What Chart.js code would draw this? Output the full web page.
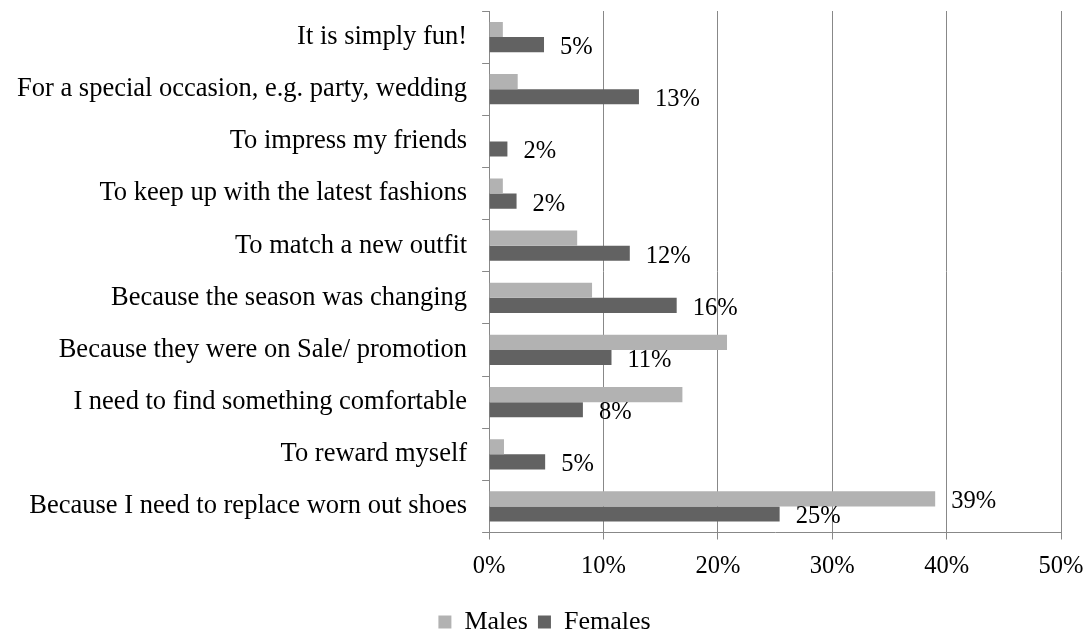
<!DOCTYPE html>
<html>
<head>
<meta charset="utf-8">
<script src="https://cdn.jsdelivr.net/npm/chart.js@4"></script>
<style>
  html, body { margin: 0; padding: 0; background: #fff; }
  #wrap { width: 1091px; height: 632px; }
</style>
</head>
<body>
<div id="wrap"><canvas id="chart" width="1091" height="632"></canvas></div>
<script>
const categories = [
  "It is simply fun!",
  "For a special occasion, e.g. party, wedding",
  "To impress my friends",
  "To keep up with the latest fashions",
  "To match a new outfit",
  "Because the season was changing",
  "Because they were on Sale/ promotion",
  "I need to find something comfortable",
  "To reward myself",
  "Because I need to replace worn out shoes",
];
const males = [1.2, 2.5, 0, 1.2, 7.7, 9.0, 20.8, 16.9, 1.3, 39.0];
const females = [4.8, 13.1, 1.6, 2.4, 12.3, 16.4, 10.7, 8.2, 4.9, 25.4];
// which bars carry a value label
const maleLabelShown = [false, false, false, false, false, false, false, false, false, true];
const femaleLabelShown = [true, true, true, true, true, true, true, true, true, true];
const xTicks = [0, 10, 20, 30, 40, 50];

const FONT = "'Liberation Serif', 'Times New Roman', serif";

const valueLabels = {
  id: "valueLabels",
  afterLayout(chart) {
    // legend sits a bit right of the canvas centre in the original
    chart.legend.left += 13;
    chart.legend.right += 13;
  },
  afterDatasetsDraw(chart) {
    const ctx = chart.ctx;
    ctx.save();
    ctx.font = "24.5px " + FONT;
    ctx.fillStyle = "#000";
    ctx.textBaseline = "middle";
    ctx.textAlign = "left";
    const shown = [maleLabelShown, femaleLabelShown];
    chart.data.datasets.forEach((ds, di) => {
      chart.getDatasetMeta(di).data.forEach((bar, i) => {
        if (!shown[di][i]) return;
        ctx.fillText(Math.round(ds.data[i]) + "%", bar.x + 16, bar.y + 3);
      });
    });
    ctx.restore();
  },
};

new Chart(document.getElementById("chart").getContext("2d"), {
  type: "bar",
  data: {
    labels: categories,
    datasets: [
      {
        label: "Males",
        data: males,
        backgroundColor: "#b2b2b2",
        categoryPercentage: 0.58,
        barPercentage: 1.0,
      },
      {
        label: "Females",
        data: females,
        backgroundColor: "#626262",
        categoryPercentage: 0.58,
        barPercentage: 1.0,
      },
    ],
  },
  options: {
    indexAxis: "y",
    responsive: false,
    animation: false,
    layout: { padding: { top: 11, right: 30, left: 2, bottom: -13 } },
    scales: {
      x: {
        min: 0,
        max: 50,
        afterBuildTicks: (axis) => { axis.ticks = xTicks.map((v) => ({ value: v })); },
        afterFit: (scale) => { scale.paddingLeft = 0; scale.paddingRight = 0; },
        ticks: {
          color: "#000",
          font: { family: FONT, size: 24.5, lineHeight: 1.0 },
          padding: 15,
          callback: (v) => v + "%",
        },
        title: { display: true, text: " ", font: { size: 2, lineHeight: 1.0 }, padding: { top: 3, bottom: 0 } },
        grid: { color: "#888888", lineWidth: 1, tickLength: 7, drawTicks: true },
        border: { color: "#888888", width: 1 },
      },
      y: {
        afterFit: (scale) => { scale.paddingTop = 0; scale.paddingBottom = 0; },
        ticks: {
          color: "#000",
          font: { family: FONT, size: 26.5 },
          padding: 15,
          autoSkip: false,
        },
        grid: { offset: true, drawOnChartArea: false, drawTicks: true, tickLength: 7, color: "#888888" },
        border: { color: "#888888", width: 1 },
      },
    },
    plugins: {
      legend: {
        position: "bottom",
        labels: {
          color: "#000",
          font: { family: FONT, size: 26 },
          boxWidth: 13,
          boxHeight: 13,
          padding: 10,
        },
      },
      tooltip: { enabled: false },
    },
  },
  plugins: [valueLabels],
});
</script>
</body>
</html>
